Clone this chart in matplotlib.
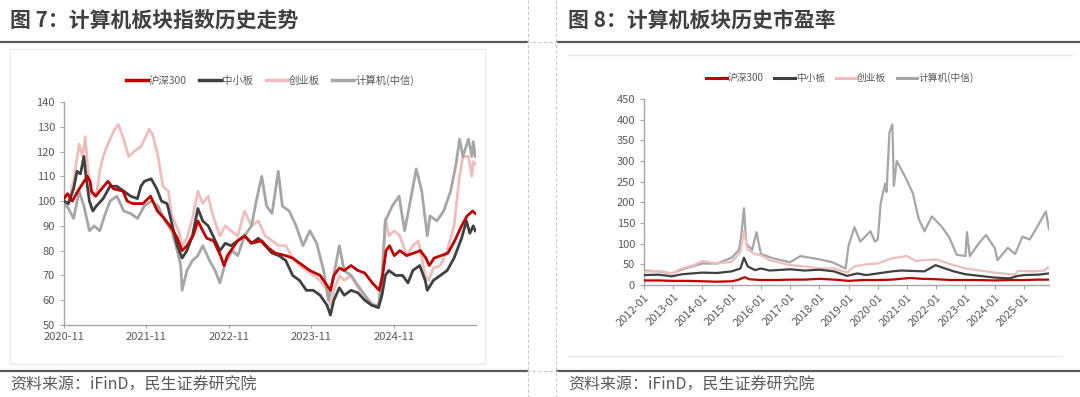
import matplotlib
matplotlib.use("Agg")
import matplotlib.pyplot as plt
from matplotlib.lines import Line2D
from matplotlib.patches import Rectangle

plt.rcParams['font.family'] = ['Noto Sans CJK SC', 'DejaVu Sans']

# ---------------- data: left chart (index, months since 2020-11) ----------------
left_ticks = [0, 12, 24, 36, 48]
left_tick_labels = ["2020-11", "2021-11", "2022-11", "2023-11", "2024-11"]

hs300_t = [0, 0.5, 1.2, 2.0, 3.4, 3.8, 4.0, 4.6, 5.2, 6.4, 7.2, 8.6, 9.2, 10.0, 11.5, 12.6, 13.6, 14.6,
           15.7, 16.5, 17.2, 17.9, 18.8, 19.5, 20.2, 20.8, 21.8, 22.8, 23.3, 23.8, 24.3, 25.3, 26.3, 27.3,
           28.8, 29.8, 30.8, 32.3, 33.3, 34.3, 35.8, 37.3, 38.3, 38.8, 39.3, 40.1, 40.8, 41.8, 42.8, 43.8,
           44.9, 45.9, 46.4, 46.9, 47.4, 48.1, 48.9, 49.9, 50.9, 51.9, 52.7, 53.2, 53.9, 54.9, 55.9, 56.9,
           57.9, 58.7, 59.5, 59.9]
hs300_v = [101, 103, 100, 104, 110, 108, 104, 102, 104, 108, 105, 104, 100, 99, 99, 102, 96, 93,
           89, 85, 80, 82, 86, 92, 88, 85, 84, 78, 74, 78, 80, 84, 86, 83,
           84, 81, 79, 78, 77, 75, 72, 70, 66, 64, 70, 73, 72, 74, 72, 71,
           67, 64, 70, 80, 82, 78, 80, 78, 79, 80, 77, 74, 77, 78, 79, 84,
           90, 94, 96, 95]

sme_t = [0, 0.65, 1.4, 1.9, 2.4, 2.9, 3.2, 3.7, 4.2, 4.7, 5.7, 6.7, 7.7, 8.7, 9.7, 10.7, 11.2, 11.7,
         12.7, 13.5, 14.2, 15.0, 15.2, 15.7, 16.5, 17.2, 17.9, 18.7, 19.5, 20.2, 21.0, 21.7, 22.7, 23.5,
         24.3, 25.3, 26.3, 27.3, 28.3, 29.3, 30.3, 31.3, 32.3, 33.3, 34.3, 35.3, 36.3, 37.3, 38.3, 38.8,
         39.3, 40.1, 40.8, 41.8, 42.8, 43.8, 44.8, 45.8, 46.3, 46.8, 47.3, 48.3, 49.3, 50.1, 50.8, 51.8,
         52.6, 52.9, 53.8, 54.8, 55.8, 56.8, 57.9, 58.6, 59.1, 59.6, 59.9]
sme_v = [100, 99, 105, 112, 111, 118, 110, 100, 96, 98, 101, 106, 106, 104, 102, 101, 106, 108,
         109, 105, 100, 99, 97, 91, 82, 77, 80, 86, 97, 92, 90, 86, 80, 83,
         82, 84, 86, 83, 85, 82, 79, 78, 76, 70, 68, 64, 64, 62, 58, 54,
         60, 65, 62, 64, 63, 60, 58, 57, 62, 70, 72, 70, 70, 67, 72, 74,
         68, 64, 68, 70, 72, 77, 85, 92, 87, 90, 88]

gem_t = [0, 0.65, 1.4, 2.2, 2.7, 3.1, 3.4, 3.9, 4.7, 5.2, 5.7, 6.4, 7.2, 7.9, 8.7, 9.4, 10.2, 11.2,
         11.9, 12.4, 12.9, 13.7, 14.4, 15.2, 15.7, 16.7, 17.2, 17.9, 18.7, 19.5, 20.2, 21.0, 21.7, 22.7,
         23.5, 24.3, 25.3, 26.3, 27.3, 28.3, 29.3, 30.3, 31.3, 32.3, 33.3, 34.3, 35.3, 36.3, 37.3, 38.3,
         38.8, 39.3, 40.1, 40.8, 41.8, 42.8, 43.8, 44.8, 45.8, 46.3, 46.8, 47.3, 48.1, 48.9, 49.9, 50.8,
         51.6, 52.6, 53.1, 53.8, 54.8, 55.8, 56.8, 57.6, 58.1, 58.9, 59.4, 59.6, 59.9]
gem_v = [97, 100, 108, 123, 118, 126, 115, 103, 102, 112, 118, 123, 128, 131, 125, 118, 120, 122,
         126, 129, 127, 118, 106, 104, 94, 88, 82, 85, 93, 104, 99, 102, 94, 86,
         90, 88, 86, 96, 90, 92, 86, 84, 82, 82, 77, 74, 72, 70, 68, 64,
         58, 64, 70, 68, 70, 65, 62, 59, 57, 70, 93, 86, 88, 86, 78, 82,
         84, 70, 68, 73, 74, 80, 90, 110, 118, 118, 110, 116, 115]

comp_t = [0, 0.65, 1.4, 2.2, 2.9, 3.7, 4.4, 5.2, 5.9, 6.7, 7.7, 8.7, 9.7, 10.7, 11.7, 12.7, 13.7, 14.7,
          15.7, 16.5, 17.0, 17.2, 17.9, 18.7, 19.5, 20.2, 21.2, 22.0, 22.7, 23.5, 24.5, 25.3, 26.3, 27.3,
          28.0, 28.8, 29.5, 30.3, 31.2, 31.8, 32.8, 33.8, 34.8, 35.8, 36.8, 37.8, 38.5, 39.0, 40.1, 40.8,
          41.8, 42.8, 43.8, 44.8, 45.8, 46.3, 46.8, 47.8, 48.8, 49.6, 50.3, 51.3, 52.1, 52.9, 53.3, 54.3,
          55.3, 56.3, 57.1, 57.6, 58.1, 58.9, 59.4, 59.6, 59.9]
comp_v = [100, 97, 93, 104, 98, 88, 90, 88, 94, 100, 102, 96, 95, 93, 98, 100, 98, 92,
          88, 80, 74, 64, 72, 76, 78, 82, 76, 72, 67, 75, 80, 78, 86, 90,
          100, 110, 98, 95, 112, 98, 96, 90, 82, 88, 83, 72, 60, 66, 82, 72,
          70, 66, 62, 58, 58, 68, 92, 98, 102, 88, 98, 113, 104, 86, 94, 92,
          96, 104, 115, 125, 118, 125, 118, 124, 118]

# ---------------- data: right chart (PE, years since 2012-01) ----------------
right_ticks = list(range(14))
right_tick_labels = ["2012-01", "2013-01", "2014-01", "2015-01", "2016-01", "2017-01", "2018-01",
                     "2019-01", "2020-01", "2021-01", "2022-01", "2023-01", "2024-01", "2025-01"]

pe_hs300_t = [0, 0.5, 1, 1.5, 2, 2.5, 3, 3.2, 3.45, 3.6, 4, 4.5, 5, 5.5, 6, 6.5, 7, 7.5, 8, 8.5,
              9.1, 9.5, 10, 10.5, 11, 11.5, 12, 12.5, 13, 13.5, 13.86]
pe_hs300_v = [11, 11, 10, 10, 9, 8, 9, 12, 19, 14, 12, 12, 13, 13, 15, 13, 10, 12, 12, 13,
              17, 15, 14, 12, 12, 12, 11, 12, 12, 13, 13]

pe_sme_t = [0, 0.5, 0.95, 1.3, 2, 2.5, 3, 3.3, 3.42, 3.55, 3.8, 4, 4.3, 5, 5.5, 6, 6.5, 6.95, 7.3,
            7.6, 8, 8.5, 8.8, 9.2, 9.6, 9.98, 10.3, 10.6, 11, 11.5, 12, 12.5, 12.8, 13, 13.5, 13.86]
pe_sme_v = [24, 25, 21, 26, 30, 29, 33, 40, 66, 45, 36, 40, 35, 38, 35, 37, 33, 22, 28,
            24, 28, 33, 35, 34, 33, 48, 40, 33, 26, 22, 18, 16, 22, 24, 25, 28]

pe_gem_t = [0, 0.5, 0.95, 1.3, 1.7, 2, 2.5, 3, 3.3, 3.42, 3.55, 3.8, 4, 4.3, 5, 5.5, 6, 6.5, 6.95,
            7.2, 7.6, 8, 8.5, 9, 9.3, 9.6, 10, 10.5, 11, 11.5, 12, 12.7, 12.8, 13.3, 13.7, 13.8, 13.86]
pe_gem_v = [32, 34, 28, 40, 48, 58, 52, 56, 80, 130, 85, 75, 72, 60, 48, 45, 40, 40, 30,
            45, 50, 52, 65, 70, 58, 60, 62, 50, 40, 35, 30, 25, 34, 33, 35, 42, 40]

pe_comp_t = [0, 0.5, 0.95, 1.4, 2, 2.5, 3, 3.25, 3.33, 3.42, 3.5, 3.7, 3.85, 4, 4.4, 5, 5.35, 6,
             6.45, 6.9, 7.0, 7.2, 7.4, 7.75, 7.9, 8.0, 8.1, 8.25, 8.3, 8.4, 8.5, 8.55, 8.65, 8.95,
             9.2, 9.4, 9.6, 9.85, 10.2, 10.45, 10.7, 11, 11.05, 11.15, 11.45, 11.7, 12.0, 12.1, 12.45,
             12.7, 12.95, 13.2, 13.45, 13.75, 13.86]
pe_comp_v = [35, 33, 28, 40, 52, 52, 66, 85, 120, 186, 100, 85, 128, 75, 65, 55, 70, 62,
             55, 40, 95, 140, 105, 130, 105, 110, 198, 245, 225, 370, 388, 240, 300, 260,
             222, 160, 130, 166, 140, 115, 73, 70, 128, 70, 100, 121, 90, 60, 90,
             75, 117, 110, 140, 178, 135]

names = ["沪深300", "中小板", "创业板", "计算机(中信)"]
colors = ["#C00000", "#404040", "#F0BCBC", "#A6A6A6"]

# ---------------- figure ----------------
W, H = 1080, 397
fig = plt.figure(figsize=(W / 100, H / 100), dpi=100)
fig.patch.set_facecolor("white")


def px_axes(x0, y0, x1, y1):
    return fig.add_axes([x0 / W, (H - y1) / H, (x1 - x0) / W, (y1 - y0) / H])


# decorations layer
deco = fig.add_axes([0, 0, 1, 1])
deco.set_xlim(0, W)
deco.set_ylim(H, 0)
deco.axis("off")
dark = "#595959"
deco.plot([0, 527], [41.5, 41.5], color=dark, lw=1.6)
deco.plot([557, W], [41.5, 41.5], color=dark, lw=1.6)
deco.plot([0, 527], [370.5, 370.5], color=dark, lw=1.6)
deco.plot([557, W], [370.5, 370.5], color=dark, lw=1.6)
deco.plot([527, 557], [41.5, 41.5], color="#C8C8C8", lw=0.8, ls=(0, (3, 2)))
deco.plot([527, 557], [370.5, 370.5], color="#C8C8C8", lw=0.8, ls=(0, (3, 2)))
deco.plot([528, 528], [0, H], color="#C8C8C8", lw=0.8, ls=(0, (3, 2)))
deco.plot([556, 556], [0, H], color="#C8C8C8", lw=0.8, ls=(0, (3, 2)))
deco.add_patch(Rectangle((9.5, 48.5), 475, 315, fill=False, ec="#EBEBEB", lw=1.0))
deco.plot([568, 1072], [55, 55], color="#E6E6E6", lw=1.0)
deco.plot([568, 1062], [356, 356], color="#E6E6E6", lw=1.0)

deco.text(10, 20, "图 7：计算机板块指数历史走势", fontsize=15, fontweight="bold",
          color="#404040", va="center", ha="left")
deco.text(568, 20, "图 8：计算机板块历史市盈率", fontsize=15, fontweight="bold",
          color="#404040", va="center", ha="left")
deco.text(10, 385, "资料来源：iFinD，民生证券研究院", fontsize=11.5, color="#595959",
          va="center", ha="left")
deco.text(568, 385, "资料来源：iFinD，民生证券研究院", fontsize=11.5, color="#595959",
          va="center", ha="left")


def style_axes(ax):
    for s in ["top", "right"]:
        ax.spines[s].set_visible(False)
    for s in ["left", "bottom"]:
        ax.spines[s].set_color("#A6A6A6")
        ax.spines[s].set_linewidth(1.0)
    ax.tick_params(axis="both", colors="#A6A6A6", labelcolor="#595959", labelsize=8,
                   length=3, width=0.8, direction="out")
    ax.set_facecolor("none")


# ---------------- left chart ----------------
axL = px_axes(64, 102, 476, 325)
series_L = [(hs300_t, hs300_v), (sme_t, sme_v), (gem_t, gem_v), (comp_t, comp_v)]
zordersL = [5, 4, 2, 3]
for (t, v), c, z in zip(series_L, colors, zordersL):
    axL.plot(t, v, color=c, lw=2.0, zorder=z, solid_joinstyle="round")
axL.set_xlim(0, 60)
axL.set_ylim(50, 140)
axL.set_yticks(range(50, 141, 10))
axL.set_xticks(left_ticks)
axL.set_xticklabels(left_tick_labels)
style_axes(axL)
axL.tick_params(axis="x", length=2, pad=3)

handles = [Line2D([0], [0], color=c, lw=2.5) for c in colors]
fig.legend(handles, names, loc="center", bbox_to_anchor=(270 / W, 1 - 80.5 / H),
           ncol=4, frameon=False, fontsize=7.5, handlelength=2.1, handletextpad=0.1,
           columnspacing=1.2, labelcolor="#595959")

# ---------------- right chart ----------------
axR = px_axes(644, 99, 1049, 285)
series_R = [(pe_hs300_t, pe_hs300_v), (pe_sme_t, pe_sme_v), (pe_gem_t, pe_gem_v), (pe_comp_t, pe_comp_v)]
zordersR = [5, 4, 3, 2]
for (t, v), c, z in zip(series_R, colors, zordersR):
    axR.plot(t, v, color=c, lw=1.6, zorder=z, solid_joinstyle="round")
axR.set_xlim(0, 13.86)
axR.set_ylim(0, 450)
axR.set_yticks(range(0, 451, 50))
axR.set_xticks(right_ticks)
axR.set_xticklabels(right_tick_labels, rotation=45, ha="right", rotation_mode="anchor")
style_axes(axR)
axR.tick_params(axis="x", length=3, pad=2)

handlesR = [Line2D([0], [0], color=c, lw=2.2) for c in colors]
fig.legend(handlesR, names, loc="center", bbox_to_anchor=(840 / W, 1 - 78 / H),
           ncol=4, frameon=False, fontsize=7, handlelength=2.1, handletextpad=0.1,
           columnspacing=1.1, labelcolor="#595959")

fig.savefig("out.png", dpi=100, facecolor="white")
